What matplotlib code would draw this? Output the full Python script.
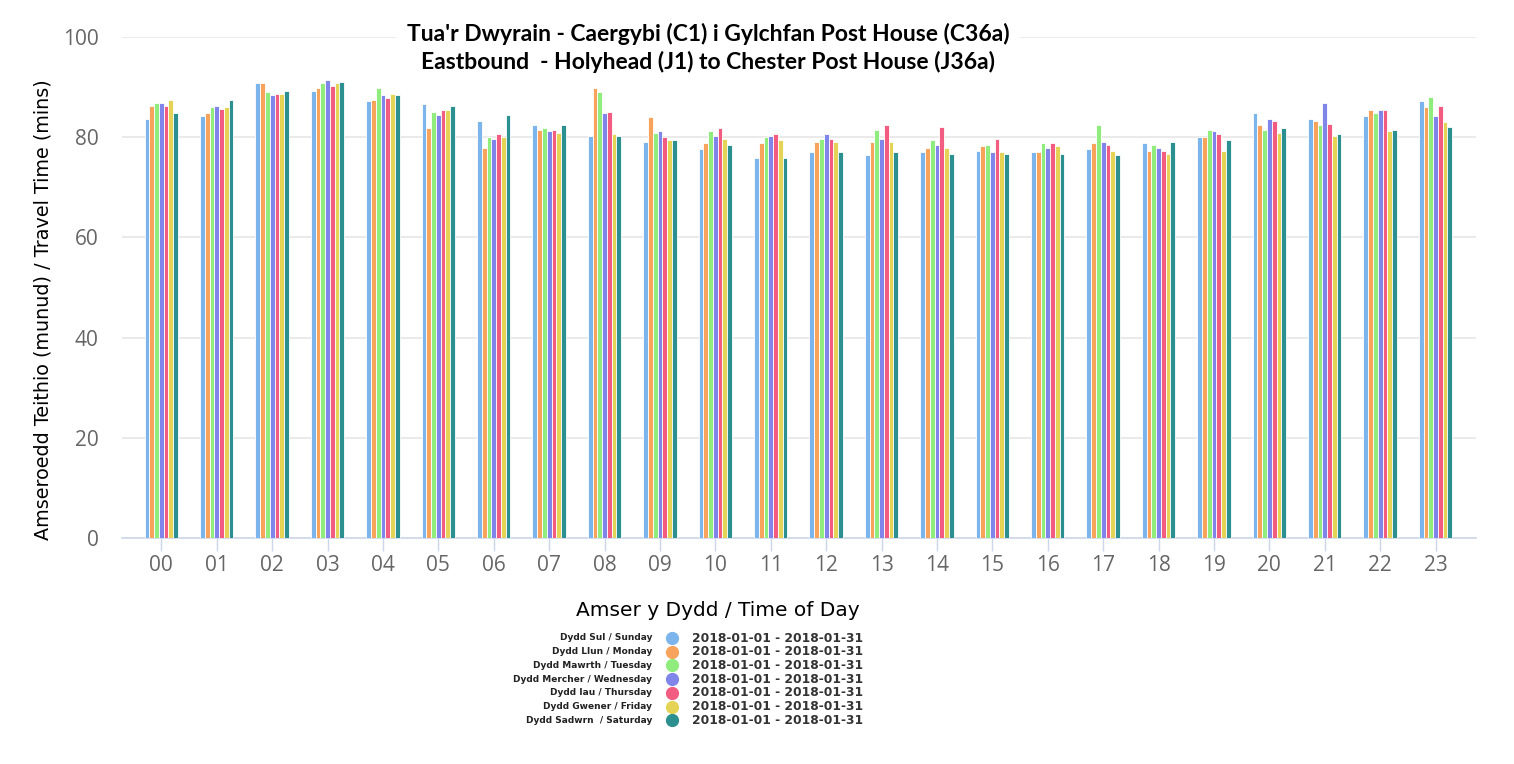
import numpy as np
import matplotlib
matplotlib.use("Agg")
import matplotlib.pyplot as plt

# hours of the day
hours = ["%02d" % h for h in range(24)]

# travel time (mins) per day of week
sunday    = [83.6, 84.2, 90.8, 89.2, 87.2, 86.6, 83.2, 82.4, 80.2, 79.0, 77.6, 75.8,
             77.0, 76.4, 77.0, 77.2, 77.0, 77.6, 78.8, 80.0, 84.8, 83.6, 84.2, 87.2]
monday    = [86.2, 84.8, 90.8, 89.8, 87.4, 81.8, 77.8, 81.4, 89.8, 84.1, 78.8, 78.8,
             79.0, 79.0, 77.8, 78.2, 77.0, 78.8, 77.2, 80.0, 82.4, 83.2, 85.4, 86.0]
tuesday   = [86.8, 86.0, 89.0, 90.8, 89.8, 85.0, 80.0, 81.8, 89.0, 80.8, 81.2, 80.0,
             79.6, 81.4, 79.4, 78.4, 78.8, 82.4, 78.4, 81.4, 81.4, 82.4, 84.8, 88.0]
wednesday = [86.8, 86.2, 88.4, 91.4, 88.4, 84.4, 79.6, 81.2, 84.8, 81.2, 80.2, 80.2,
             80.6, 79.6, 78.4, 77.0, 77.8, 79.0, 77.8, 81.2, 83.6, 86.8, 85.4, 84.2]
thursday  = [86.2, 85.6, 88.6, 90.2, 87.8, 85.4, 80.6, 81.4, 85.0, 80.0, 81.8, 80.6,
             79.6, 82.4, 82.0, 79.6, 78.8, 78.4, 77.2, 80.6, 83.2, 82.6, 85.4, 86.2]
friday    = [87.4, 86.0, 88.6, 90.8, 88.6, 85.4, 80.0, 80.8, 80.6, 79.4, 79.6, 79.4,
             79.0, 79.0, 77.8, 77.0, 78.2, 77.2, 76.6, 77.2, 80.8, 80.2, 81.2, 83.0]
saturday  = [84.8, 87.4, 89.2, 91.0, 88.4, 86.2, 84.4, 82.4, 80.2, 79.4, 78.4, 75.8,
             77.0, 77.0, 76.6, 76.6, 76.6, 76.4, 79.0, 79.4, 81.8, 80.6, 81.4, 82.0]

series = [sunday, monday, tuesday, wednesday, thursday, friday, saturday]
day_names = ["Dydd Sul / Sunday", "Dydd Llun / Monday", "Dydd Mawrth / Tuesday",
             "Dydd Mercher / Wednesday", "Dydd Iau / Thursday", "Dydd Gwener / Friday",
             "Dydd Sadwrn  / Saturday"]
date_range = "2018-01-01 - 2018-01-31"
colors = ["#7cb5ec", "#f7a35c", "#90ed7d", "#8085e9", "#f15c80", "#e4d354", "#2b908f"]

W, H = 1514, 764
fig = plt.figure(figsize=(W / 100, H / 100), dpi=100)
ax = fig.add_axes([122 / W, 1 - 538 / H, (1476 - 122) / W, (538 - 37) / H])

x = np.arange(len(hours))
stride = 0.086
for i, (vals, c) in enumerate(zip(series, colors)):
    ax.bar(x + (i - 3) * stride, vals, width=stride, color=c,
           edgecolor="white", linewidth=0.6, zorder=3)

ax.set_xlim(-0.71, 23.73)
ax.set_ylim(0, 100)
ax.set_yticks(range(0, 101, 20))
ax.grid(axis="y", color="#e6e6e6", linewidth=1.2, zorder=0)
for s in ["top", "right", "left"]:
    ax.spines[s].set_visible(False)
ax.spines["bottom"].set_color("#ccd6eb")
ax.spines["bottom"].set_linewidth(1.2)
ax.set_xticks(x)
ax.set_xticklabels(hours)
ax.tick_params(axis="x", length=9.5, width=1, color="#ccd6eb", pad=3,
               labelsize=15, labelcolor="#666666")
ax.tick_params(axis="y", length=0, pad=17, labelsize=15, labelcolor="#666666")
for lbl in ax.get_xticklabels() + ax.get_yticklabels():
    lbl.set_family(["Open Sans", "DejaVu Sans"])

ax.set_ylabel("Amseroedd Teithio (munud) / Travel Time (mins)", fontsize=13.8,
              family="DejaVu Sans")
ax.yaxis.set_label_coords(-0.051, 0.455)
ax.set_xlabel("Amser y Dydd / Time of Day", fontsize=14.5, family="DejaVu Sans")
ax.xaxis.set_label_coords(0.44, -0.125)

# title with white box over the top gridline
fig.text(708 / W, 1 - 48 / H,
         "Tua'r Dwyrain - Caergybi (C1) i Gylchfan Post House (C36a)\n"
         "Eastbound  - Holyhead (J1) to Chester Post House (J36a)",
         ha="center", va="center", fontsize=16.5, fontweight="bold",
         family=["Lato", "DejaVu Sans"], linespacing=1.35,
         bbox=dict(facecolor="white", edgecolor="none", pad=8))

# legend drawn by hand: name | dot | date range
y0 = 638
dy = 13.7
for i, (name, c) in enumerate(zip(day_names, colors)):
    yy = 1 - (y0 + i * dy) / H
    fig.text(652 / W, yy, name, ha="right", va="center", fontsize=6.5,
             fontweight="bold", color="#222222")
    fig.text(692 / W, yy, date_range, ha="left", va="center", fontsize=8.8,
             fontweight="bold", color="#333333")
    fig.add_artist(plt.Line2D([672 / W], [yy], marker="o", markersize=8.5,
                              color=c, linestyle="none", transform=fig.transFigure))

fig.savefig("out.png", dpi=100)
